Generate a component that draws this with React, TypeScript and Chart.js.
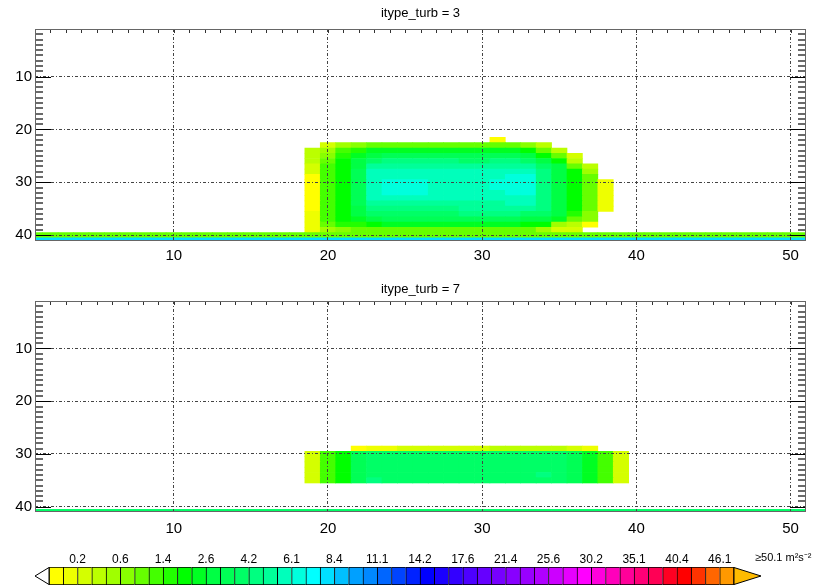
import React, { useEffect, useRef } from 'react';
import { Chart, registerables } from 'chart.js';
Chart.register(...registerables);

// ---------- colour scale (m2 s-2) ----------
const LEVELS = [0.01, 0.1, 0.2, 0.3, 0.45, 0.6, 0.85, 1.1, 1.4, 1.8, 2.2, 2.6, 3.1, 3.6, 4.2, 4.8, 5.4, 6.1, 6.8, 7.6,
  8.4, 9.3, 10.2, 11.1, 12.1, 13.1, 14.2, 15.3, 16.4, 17.6, 18.8, 20.1, 21.4, 22.8, 24.2, 25.6, 27.1, 28.6, 30.2, 31.8,
  33.4, 35.1, 36.8, 38.6, 40.4, 42.3, 44.2, 46.1, 50.1];
const COLORS = ['#ffff00', '#eeff00', '#d4ff00', '#bbff00', '#a0ff00', '#88ff00', '#66ff00', '#44ff00', '#22ff00', '#00ff00',
  '#00ff22', '#00ff44', '#00ff55', '#00ff66', '#00ff80', '#00ff99', '#00ffbb', '#00ffdd', '#00ffff', '#00e0ff',
  '#00c0ff', '#00a0ff', '#0088ff', '#0066ff', '#0044ff', '#0022ff', '#0000ff', '#1a00ff', '#3300ff', '#4d00ff',
  '#6600ff', '#7700ff', '#8800ff', '#9900ff', '#b000ff', '#cc00ff', '#e600ff', '#ff00ff', '#ff00dd', '#ff00bb',
  '#ff0099', '#ff0077', '#ff0055', '#ff0022', '#ff0000', '#ff3300', '#ff6600', '#ff9900'];
const OVER_COLOR = '#ffbb00';
const CB_TICKS = [2, 5, 8, 11, 14, 17, 20, 23, 26, 29, 32, 35, 38, 41, 44, 47];
const CB_LABELS = ['0.2', '0.6', '1.4', '2.6', '4.2', '6.1', '8.4', '11.1', '14.2', '17.6', '21.4', '25.6', '30.2', '35.1', '40.4', '46.1'];
const CB_OVER_LABEL = '\u226550.1 m\u00b2s\u207b\u00b2';

// ---------- axes ----------
const X_TICKS = [10, 20, 30, 40, 50];
const Y_TICKS = [10, 20, 30, 40];
const TITLE_1 = 'itype_turb = 3';
const TITLE_2 = 'itype_turb = 7';

// ---------- panel 1 (itype_turb = 3): rows 22..39, columns 19..38 ----------
const P1_ROW0 = 22;
const P1_COL0 = 19;
const P1_GRID = [
  [null, null, null, null, null, null, null, null, null, null, null, null, 0.05, null, null, null, null, null, null, null],
  [null, 0.25, 0.5, 0.7, 0.95, 0.95, 0.95, 0.95, 0.95, 0.95, 0.95, 0.95, 0.95, 0.95, 0.7, 0.38, null, null, null, null],
  [0.38, 0.5, 1.25, 1.6, 2.4, 2.4, 2.4, 2.4, 2.4, 2.4, 2.4, 2.4, 2.4, 2.4, 2.0, 0.95, 0.38, null, null, null],
  [0.38, 0.7, 1.6, 2.4, 2.85, 3.35, 3.35, 3.35, 3.35, 3.35, 3.35, 3.35, 3.35, 3.35, 2.85, 2.0, 0.95, 0.25, null, null],
  [0.38, 0.95, 2.0, 2.85, 3.9, 4.5, 4.5, 4.5, 4.5, 4.5, 3.9, 3.9, 4.5, 4.5, 3.9, 2.85, 2.0, 0.38, null, null],
  [0.25, 1.25, 2.0, 2.85, 5.1, 5.1, 5.1, 5.1, 5.1, 5.1, 5.1, 5.1, 5.1, 5.1, 5.1, 3.9, 2.85, 0.95, 0.38, null],
  [0.25, 1.25, 2.0, 3.35, 5.75, 5.75, 5.75, 5.75, 5.75, 5.75, 5.75, 5.75, 5.75, 5.75, 5.75, 4.5, 2.85, 2.0, 0.5, null],
  [0.05, 1.25, 2.0, 3.35, 5.75, 5.75, 5.75, 5.75, 5.75, 5.75, 5.75, 5.75, 5.75, 6.45, 6.45, 4.5, 2.85, 2.0, 0.95, null],
  [0.05, 1.25, 2.0, 3.35, 5.75, 6.45, 6.45, 6.45, 5.75, 5.75, 5.75, 5.75, 6.45, 6.45, 6.45, 4.5, 2.85, 2.0, 0.95, 0.15],
  [0.05, 1.25, 2.0, 3.35, 5.75, 6.45, 6.45, 6.45, 5.75, 5.75, 5.75, 5.75, 6.45, 6.45, 6.45, 4.5, 2.85, 2.0, 0.95, 0.15],
  [0.05, 1.25, 2.0, 3.35, 5.75, 6.45, 6.45, 6.45, 5.75, 5.75, 5.75, 5.75, 5.75, 6.45, 6.45, 4.5, 2.85, 2.0, 0.95, 0.15],
  [0.05, 1.25, 2.0, 3.35, 5.75, 5.75, 5.75, 5.75, 5.75, 5.75, 5.75, 5.75, 5.75, 5.75, 5.75, 4.5, 2.85, 2.0, 0.95, 0.15],
  [0.05, 1.25, 2.0, 3.35, 5.1, 5.1, 5.1, 5.1, 5.1, 5.1, 5.1, 5.1, 5.1, 5.75, 5.75, 4.5, 2.85, 2.0, 0.95, 0.15],
  [0.05, 1.25, 2.0, 2.85, 4.5, 4.5, 4.5, 4.5, 4.5, 4.5, 5.1, 5.1, 5.1, 5.1, 5.1, 4.5, 2.85, 2.0, 0.95, 0.15],
  [0.15, 1.25, 2.0, 2.85, 3.9, 3.9, 3.9, 3.9, 3.9, 3.9, 4.5, 4.5, 4.5, 4.5, 3.9, 3.9, 2.85, 1.6, 0.7, null],
  [0.15, 1.25, 2.0, 2.4, 2.85, 3.35, 3.35, 3.35, 3.35, 3.35, 3.35, 3.35, 3.35, 3.35, 2.85, 2.85, 2.4, 0.95, 0.7, null],
  [0.15, 0.95, 1.6, 1.6, 2.0, 2.4, 2.4, 2.4, 2.4, 2.4, 2.4, 2.4, 2.4, 2.4, 2.0, 2.0, 0.5, 0.38, 0.05, null],
  [0.15, 0.5, 0.7, 0.95, 0.95, 0.95, 0.95, 0.95, 0.95, 0.95, 0.95, 0.95, 0.95, 0.95, 0.95, 0.5, 0.25, 0.25, null, null],
];
// full-width surface rows (columns 1..51)
const P1_ROW40 = [0.95, 0.95, 0.95, 0.95, 0.95, 0.95, 0.95, 0.95, 0.95, 0.95, 0.95, 0.95, 0.95, 0.95, 0.95, 0.95, 0.95,
  0.95, 0.95, 0.95, 0.95, 0.95, 0.95, 0.95, 0.95, 0.95, 0.95, 0.95, 0.95, 0.95, 0.95, 0.95, 0.95, 0.95, 0.95, 0.95,
  0.95, 0.95, 0.95, 0.95, 0.95, 0.95, 0.95, 0.95, 0.95, 0.95, 0.95, 0.95, 0.95, 0.95, 0.95];
const P1_ROW41 = [8.0, 8.0, 8.0, 8.0, 8.0, 8.0, 8.0, 8.0, 8.0, 8.0, 8.0, 8.0, 8.0, 8.0, 8.0, 8.0, 8.0,
  8.0, 8.0, 8.0, 8.0, 8.0, 8.0, 8.0, 8.0, 8.0, 8.0, 8.0, 8.0, 8.0, 8.0, 8.0, 8.0, 8.0, 8.0, 8.0,
  8.0, 8.0, 8.0, 8.0, 8.0, 8.0, 8.0, 8.0, 8.0, 8.0, 8.0, 8.0, 8.0, 8.0, 8.0];

// ---------- panel 2 (itype_turb = 7): rows 29..35, columns 19..39 ----------
const P2_ROW0 = 29;
const P2_COL0 = 19;
const P2_GRID = [
  [null, null, null, 0.05, 0.15, 0.15, 0.25, 0.25, 0.25, 0.25, 0.25, 0.25, 0.38, 0.38, 0.38, 0.38, 0.38, 0.25, 0.15, null, null],
  [0.25, 1.25, 2.0, 3.35, 3.9, 3.9, 3.9, 3.9, 3.9, 3.9, 3.9, 3.9, 3.9, 3.9, 3.9, 3.9, 3.9, 3.35, 2.4, 1.25, 0.25],
  [0.25, 1.25, 2.0, 3.35, 3.9, 3.9, 3.9, 3.9, 3.9, 3.9, 3.9, 3.9, 3.9, 3.9, 3.9, 3.9, 3.9, 3.35, 2.4, 1.25, 0.25],
  [0.25, 1.25, 2.0, 3.35, 3.9, 3.9, 3.9, 3.9, 3.9, 3.9, 3.9, 3.9, 3.9, 3.9, 3.9, 3.9, 3.9, 3.35, 2.4, 1.25, 0.25],
  [0.25, 1.25, 2.0, 3.35, 3.9, 3.9, 3.9, 3.9, 3.9, 3.9, 3.9, 3.9, 3.9, 3.9, 3.9, 3.9, 3.9, 3.35, 2.4, 1.25, 0.25],
  [0.25, 1.25, 2.0, 3.35, 3.9, 3.9, 3.9, 3.9, 3.9, 3.9, 3.9, 3.9, 3.9, 3.9, 3.9, 4.5, 3.9, 3.35, 2.4, 1.25, 0.25],
  [0.25, 1.25, 2.0, 3.35, 4.5, 3.9, 3.9, 3.9, 3.9, 3.9, 3.9, 3.9, 3.9, 3.9, 3.9, 3.9, 3.9, 3.35, 2.4, 1.25, 0.25],
];
const P2_ROW41 = [3.9, 3.9, 3.9, 3.9, 3.9, 3.9, 3.9, 3.9, 3.9, 3.9, 3.9, 3.9, 3.9, 3.9, 3.9, 3.9, 3.9,
  3.9, 3.9, 3.9, 3.9, 3.9, 3.9, 3.9, 3.9, 3.9, 3.9, 3.9, 3.9, 3.9, 3.9, 3.9, 3.9, 3.9, 3.9, 3.9,
  3.9, 3.9, 3.9, 3.9, 3.9, 3.9, 3.9, 3.9, 3.9, 3.9, 3.9, 3.9, 3.9, 3.9, 3.9];

// ---------- helpers ----------
function colorFor(v: number | null): string | null {
  if (v == null || v < LEVELS[0]) return null;
  if (v >= LEVELS[LEVELS.length - 1]) return OVER_COLOR;
  for (let i = COLORS.length - 1; i >= 0; i--) if (v >= LEVELS[i]) return COLORS[i];
  return null;
}

type Cell = { x: number; y: [number, number] };
function buildCells(blocks: { row0: number; col0: number; grid: (number | null)[][] }[]) {
  const pts: Cell[] = [];
  const cols: string[] = [];
  blocks.forEach(({ row0, col0, grid }) => {
    grid.forEach((rowVals, ri) => {
      rowVals.forEach((v, ci) => {
        const c = colorFor(v);
        if (!c) return;
        const r = row0 + ri;
        pts.push({ x: col0 + ci, y: [r - 0.5, r + 0.5] });
        cols.push(c);
      });
    });
  });
  return { pts, cols };
}

const FONT = 'Liberation Sans, Arial, Helvetica, sans-serif';

function makeFramePlugin(title: string, titleOffset: number) {
  return {
    id: 'frame',
    afterDraw(chart: any) {
      const ctx = chart.ctx;
      const a = chart.chartArea;
      const xs = chart.scales.x;
      const ys = chart.scales.y;
      ctx.save();
      ctx.setLineDash([]);
      // inward minor / major ticks on left and right
      for (let v = 2; v <= 40; v++) {
        const major = v % 10 === 0;
        const py = Math.round(ys.getPixelForValue(v));
        ctx.lineWidth = major ? 1 : 2;
        ctx.strokeStyle = major ? '#000000' : '#6a6a6a';
        const yy = major ? py + 0.5 : py;
        const len = major ? 16 : 8;
        ctx.beginPath();
        ctx.moveTo(a.left, yy);
        ctx.lineTo(a.left + len, yy);
        ctx.moveTo(a.right, yy);
        ctx.lineTo(a.right - len, yy);
        ctx.stroke();
      }
      // small ticks on the top edge
      ctx.lineWidth = 1;
      ctx.strokeStyle = '#333333';
      for (let v = 2; v <= 50; v++) {
        const px = Math.round(xs.getPixelForValue(v)) + 0.5;
        ctx.beginPath();
        ctx.moveTo(px, a.top);
        ctx.lineTo(px, a.top + 4);
        ctx.stroke();
      }
      ctx.strokeStyle = '#666666';
      ctx.strokeRect(Math.round(a.left) + 0.5, Math.round(a.top) + 0.5, Math.round(a.right - a.left) - 1, Math.round(a.bottom - a.top) - 1);
      // panel title centred over the plot area
      ctx.fillStyle = '#000';
      ctx.font = `13px ${FONT}`;
      ctx.textAlign = 'center';
      ctx.textBaseline = 'middle';
      ctx.fillText(title, (a.left + a.right) / 2, a.top - titleOffset);
      ctx.restore();
    },
  };
}

function panelConfig(title: string, titleOffset: number, labelPad: number, xAxisHeight: number, cells: { pts: Cell[]; cols: string[] }) {
  return {
    type: 'bar' as const,
    data: {
      datasets: [{
        data: cells.pts,
        backgroundColor: cells.cols,
        borderWidth: 0,
        categoryPercentage: 1,
        barPercentage: 1,
        grouped: false,
        clip: 0,
      }],
    },
    options: {
      animation: false,
      responsive: false,
      devicePixelRatio: 1,
      events: [],
      layout: { padding: { left: 0, right: 16, top: 29, bottom: 0 } },
      plugins: {
        legend: { display: false },
        tooltip: { enabled: false },
        title: { display: false },
      },
      scales: {
        x: {
          type: 'linear' as const, min: 1, max: 51, offset: false,
          afterBuildTicks: (axis: any) => { axis.ticks = X_TICKS.map((v) => ({ value: v })); },
          afterFit: (axis: any) => { axis.height = xAxisHeight; },
          ticks: { color: '#000', font: { family: FONT, size: 15 }, padding: labelPad, autoSkip: false, maxRotation: 0, callback: (v: any) => String(v) },
          grid: { color: '#444', lineWidth: 1, drawTicks: false, offset: false, z: 1 },
          border: { display: false, dash: [3, 2, 1, 2] },
        },
        y: {
          type: 'linear' as const, min: 1, max: 41, reverse: true,
          afterBuildTicks: (axis: any) => { axis.ticks = Y_TICKS.map((v) => ({ value: v })); },
          afterFit: (axis: any) => { axis.width = 35; },
          ticks: { color: '#000', font: { family: FONT, size: 15 }, padding: 3, autoSkip: false, callback: (v: any) => String(v) },
          grid: { color: '#444', lineWidth: 1, drawTicks: false, z: 1 },
          border: { display: false, dash: [3, 2, 1, 2] },
        },
      },
    },
    plugins: [makeFramePlugin(title, titleOffset)],
  };
}

const colorbarPlugin = {
  id: 'cbArrows',
  afterDatasetsDraw(chart: any) {
    const { ctx, chartArea: a } = chart;
    const mid = (a.top + a.bottom) / 2;
    ctx.save();
    ctx.lineWidth = 1;
    ctx.strokeStyle = '#000';
    ctx.fillStyle = '#fff';
    ctx.beginPath();
    ctx.moveTo(a.left, a.top + 0.5); ctx.lineTo(a.left - 14, mid); ctx.lineTo(a.left, a.bottom - 0.5); ctx.closePath();
    ctx.fill(); ctx.stroke();
    ctx.fillStyle = OVER_COLOR;
    ctx.beginPath();
    ctx.moveTo(a.right, a.top + 0.5); ctx.lineTo(a.right + 27, mid); ctx.lineTo(a.right, a.bottom - 0.5); ctx.closePath();
    ctx.fill(); ctx.stroke();
    ctx.fillStyle = '#000';
    ctx.font = `11px ${FONT}`;
    ctx.textAlign = 'left';
    ctx.textBaseline = 'middle';
    ctx.fillText(CB_OVER_LABEL, a.right + 21, a.top - 9);
    ctx.restore();
  },
};

function colorbarConfig() {
  return {
    type: 'bar' as const,
    data: {
      datasets: [{
        data: COLORS.map((_, i) => ({ x: i + 0.5, y: [0, 1] })),
        backgroundColor: COLORS,
        borderColor: '#000',
        borderWidth: (c: any) => (c.dataIndex === COLORS.length - 1 ? 1 : { top: 1, bottom: 1, left: 1, right: 0 }),
        borderSkipped: false,
        categoryPercentage: 1,
        barPercentage: 1,
        grouped: false,
      }],
    },
    options: {
      animation: false,
      responsive: false,
      devicePixelRatio: 1,
      events: [],
      layout: { padding: { left: 49, right: 88, top: 0, bottom: 1 } },
      plugins: { legend: { display: false }, tooltip: { enabled: false }, title: { display: false } },
      scales: {
        x: {
          type: 'linear' as const, min: 0, max: COLORS.length, offset: false, position: 'top' as const,
          afterBuildTicks: (axis: any) => { axis.ticks = CB_TICKS.map((v) => ({ value: v })); },
          afterFit: (axis: any) => { axis.height = 27; },
          ticks: { color: '#000', font: { family: FONT, size: 12 }, padding: 0, autoSkip: false, maxRotation: 0, callback: (_v: any, i: number) => CB_LABELS[i] },
          grid: { display: false, drawTicks: false, offset: false },
          border: { display: false },
        },
        y: { display: false, min: 0, max: 1 },
      },
    },
    plugins: [colorbarPlugin],
  };
}

export default function App() {
  const r1 = useRef<HTMLCanvasElement>(null);
  const r2 = useRef<HTMLCanvasElement>(null);
  const r3 = useRef<HTMLCanvasElement>(null);

  useEffect(() => {
    const cells1 = buildCells([
      { row0: P1_ROW0, col0: P1_COL0, grid: P1_GRID },
      { row0: 40, col0: 1, grid: [P1_ROW40, P1_ROW41] },
    ]);
    const cells2 = buildCells([
      { row0: P2_ROW0, col0: P2_COL0, grid: P2_GRID },
      { row0: 41, col0: 1, grid: [P2_ROW41] },
    ]);
    const c1 = new Chart(r1.current as HTMLCanvasElement, panelConfig(TITLE_1, 16, 6, 39.5, cells1) as any);
    const c2 = new Chart(r2.current as HTMLCanvasElement, panelConfig(TITLE_2, 12, 8, 28, cells2) as any);
    const c3 = new Chart(r3.current as HTMLCanvasElement, colorbarConfig() as any);
    return () => { c1.destroy(); c2.destroy(); c3.destroy(); };
  }, []);

  return (
    <div style={{ position: 'fixed', left: 0, top: 0, width: 822, height: 586, background: '#fff', overflow: 'hidden' }}>
      <canvas ref={r1} width={822} height={280} style={{ position: 'absolute', left: 0, top: 0, width: 822, height: 280 }} />
      <canvas ref={r2} width={822} height={268} style={{ position: 'absolute', left: 0, top: 272, width: 822, height: 268 }} />
      <canvas ref={r3} width={822} height={46} style={{ position: 'absolute', left: 0, top: 540, width: 822, height: 46 }} />
    </div>
  );
}
